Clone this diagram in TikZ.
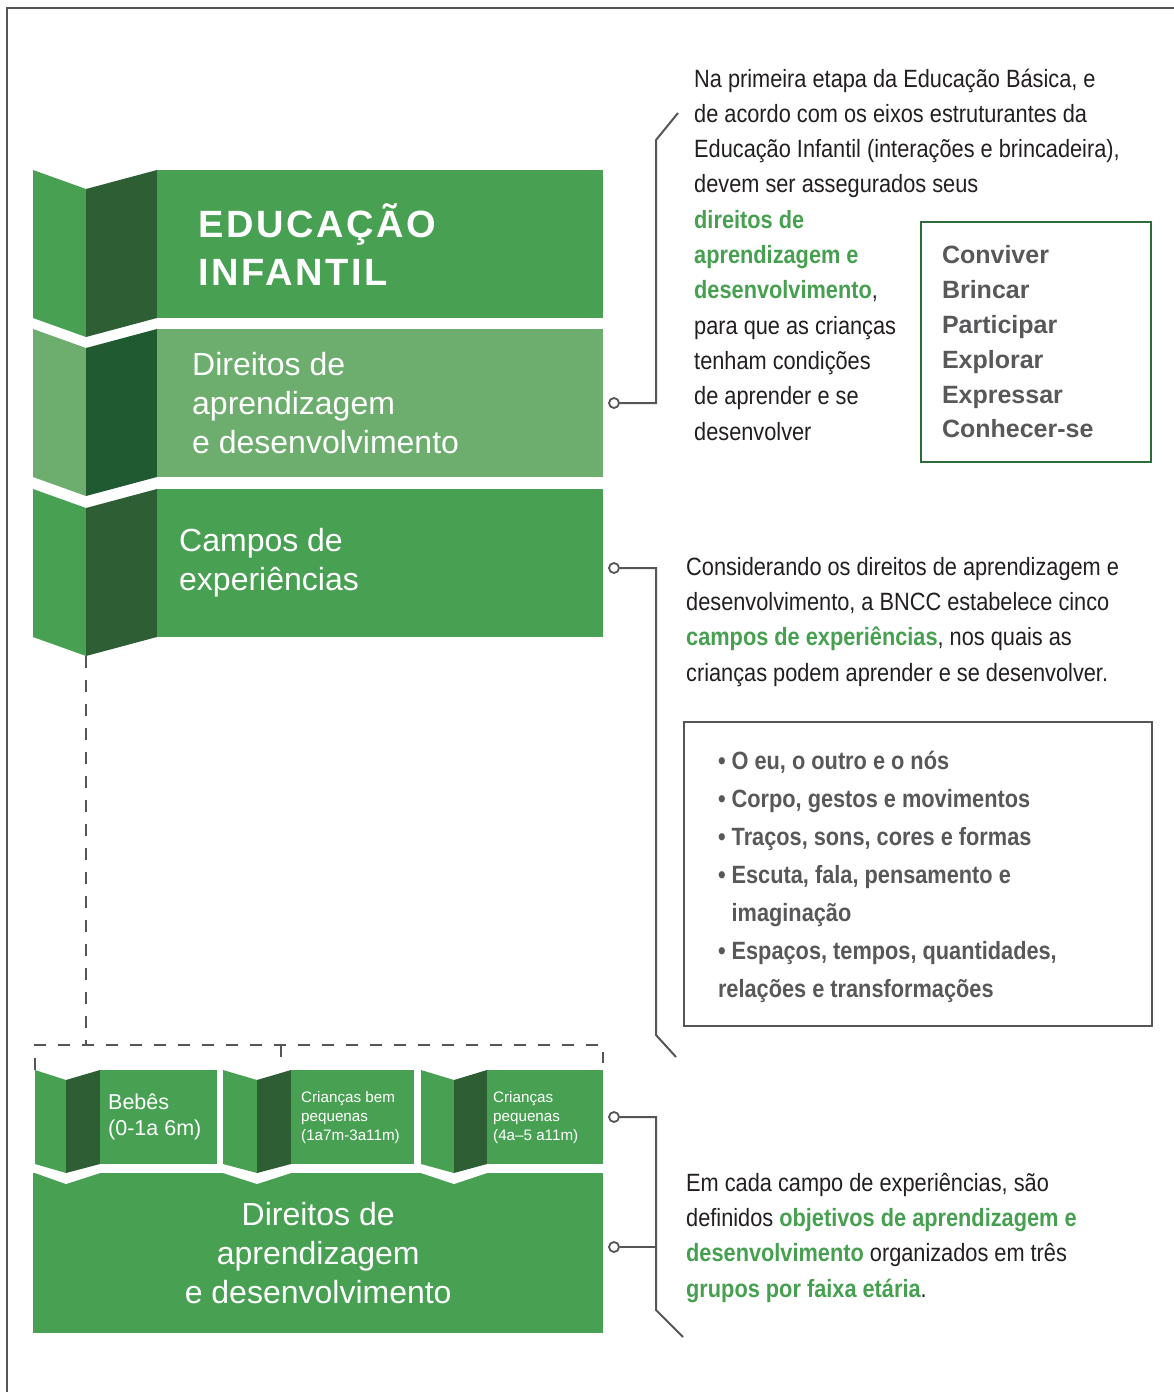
\documentclass[tikz,border=0pt]{standalone}
\usepackage{fontspec}
\setmainfont{Liberation Sans}
\newfontfamily\narrowf[FakeStretch=0.87]{Liberation Sans}
\newfontfamily\titlef[LetterSpace=7]{Liberation Sans}
\usetikzlibrary{positioning}

\definecolor{grn}{HTML}{48A153}
\definecolor{grnDk}{HTML}{2D5E34}
\definecolor{grnLt}{HTML}{6DAE6E}
\definecolor{grnDkb}{HTML}{1F5A30}
\definecolor{boxgrn}{HTML}{2E6B3A}
\definecolor{lngray}{HTML}{555555}
\definecolor{ink}{HTML}{231F20}
\definecolor{verbgray}{HTML}{58585A}
\definecolor{txtgrn}{HTML}{46A050}

\newcommand{\grnb}[1]{\textcolor{txtgrn}{\bfseries #1}}

\begin{document}
\begin{tikzpicture}[x=1pt, y=-1pt,
  blk/.style={fill=#1, inner sep=0pt, minimum width=446pt, minimum height=148pt, anchor=north west},
  sbox/.style={fill=grn, inner sep=0pt, minimum height=94pt, anchor=north west},
  lbl/.style={text=white, align=left, inner sep=0pt, font=\fontsize{32}{39}\selectfont},
  slbl/.style={text=white, align=left, inner sep=0pt, font=\fontsize{15.2}{19}\selectfont},
  txt/.style={text=ink, align=left, inner sep=0pt, anchor=base west, font=\narrowf\fontsize{25}{35.3}\selectfont},
  ln/.style={draw=lngray, line width=2pt},
  dsh/.style={draw=lngray, line width=2pt, dash pattern=on 12pt off 12pt},
  dot/.style={circle, draw=lngray, line width=1.8pt, fill=white, minimum size=10pt, inner sep=0pt}
]
\useasboundingbox (0,0) rectangle (1174,1392);

% frame
\draw[ln] (7,1392) -- (7,8) -- (1174,8);

% folded banners, left column
\fill[grn] (33,170) -- (86,189) -- (86,337) -- (33,318) -- cycle;
\fill[grnDk] (86,189) -- (157,170) -- (157,318) -- (86,337) -- cycle;
\node[blk=grn] (edu) at (157,170) {};
\node[lbl, font=\titlef\bfseries\fontsize{38}{48}\selectfont, right=41pt of edu.west] (edut) {EDUCAÇÃO\\INFANTIL};

\fill[grnLt] (33,329) -- (86,348) -- (86,496) -- (33,477) -- cycle;
\fill[grnDkb] (86,348) -- (157,329) -- (157,477) -- (86,496) -- cycle;
\node[blk=grnLt] (dir) at (157,329) {};
\node[lbl, right=35pt of dir.west] (dirt) {Direitos de\\aprendizagem\\e desenvolvimento};

\fill[grn] (33,489) -- (86,508) -- (86,656) -- (33,637) -- cycle;
\fill[grnDk] (86,508) -- (157,489) -- (157,637) -- (86,656) -- cycle;
\node[blk=grn] (cam) at (157,489) {};
\node[lbl, right=22pt of cam.west] (camt) {Campos de\\experiências};
\coordinate (v3) at (86,656);

% dashed bracket to the age groups
\coordinate (j1) at (86,1045);
\coordinate (b1) at (35,1070);
\coordinate (b2) at (603,1063);
\draw[dsh] (v3) -- (j1);
\draw[dsh] (b1) -- (35,1045) -- (603,1045) -- (b2);
\draw[dsh] (281,1045) -- (281,1068);

% age groups
\node[fill=grn, inner sep=0pt, minimum width=570pt, minimum height=160pt, anchor=north west,
  text=white, align=center, font=\fontsize{32}{39}\selectfont] (dirb) at (33,1173) {Direitos de\\aprendizagem\\e desenvolvimento};
\foreach \xa/\xb/\xc/\xd/\nm in {35/66/100/217/bb, 223/257/291/414/cbp, 421/454/487/603/cp}{
  \fill[grn] (\xa,1070) -- (\xb,1080) -- (\xb,1173) -- (\xa,1164) -- cycle;
  \fill[grnDk] (\xb,1080) -- (\xc,1070) -- (\xc,1164) -- (\xb,1173) -- cycle;
  \fill[white] (\xa,1173) -- (\xb,1184) -- (\xc,1173) -- cycle;
  \node[sbox, minimum width=\xd-\xc] (\nm) at (\xc,1070) {};
}
\node[lbl, font=\fontsize{21.5}{26}\selectfont, right=8pt of bb.west] (bbt) {Bebês\\(0-1a 6m)};
\node[slbl, right=10pt of cbp.west] (cbpt) {Crianças bem\\pequenas\\(1a7m-3a11m)};
\node[slbl, right=6pt of cp.west] (cpt) {Crianças\\pequenas\\(4a–5 a11m)};

% connectors
\coordinate (e1) at (678,113);
\coordinate (e2) at (676,1057);
\coordinate (e3) at (683,1337);
\node[dot] (c1) at (614,403) {};
\node[dot] (c2) at (614,568) {};
\node[dot] (c3) at (614,1117) {};
\node[dot] (c4) at (614,1247) {};
\draw[ln] (c1) -- (656,403) -- (656,140) -- (e1);
\draw[ln] (c2) -- (656,568) -- (656,1035) -- (e2);
\draw[ln] (c3) -- (656,1117) -- (656,1310) -- (e3);
\draw[ln] (c4) -- (656,1247);

% texts (base = last line)
\node[txt] (t1) at (694,440) {Na primeira etapa da Educação Básica, e\\de acordo com os eixos estruturantes da\\Educação Infantil (interações e brincadeira),\\devem ser assegurados seus\\\grnb{direitos de}\\\grnb{aprendizagem e}\\\grnb{desenvolvimento},\\para que as crianças\\tenham condições\\de aprender e se\\desenvolver};
\node[draw=boxgrn, line width=2.5pt, outer sep=0pt, anchor=north west, inner xsep=21pt, inner ysep=0pt,
  text width=188pt, minimum height=240pt, align=flush left, text=verbgray,
  font=\bfseries\fontsize{25}{34.8}\selectfont] (verbs) at (921,222) {Conviver\\Brincar\\Participar\\Explorar\\Expressar\\Conhecer-se};

\node[txt] (t2) at (686,681) {Considerando os direitos de aprendizagem e\\desenvolvimento, a BNCC estabelece cinco\\\grnb{campos de experiências}, nos quais as\\crianças podem aprender e se desenvolver.};
\node[draw=lngray, line width=2.5pt, outer sep=0pt, anchor=north west, inner xsep=34pt, inner ysep=0pt,
  text width=400pt, minimum height=304pt, align=flush left, text=verbgray,
  font=\narrowf\bfseries\fontsize{25}{38}\selectfont] (campos) at (684,722) {\rule{0pt}{24.5pt}• O eu, o outro e o nós\\• Corpo, gestos e movimentos\\• Traços, sons, cores e formas\\• Escuta, fala, pensamento e\\\phantom{• }imaginação\\• Espaços, tempos, quantidades,\\relações e transformações};

\node[txt] (t3) at (686,1297) {Em cada campo de experiências, são\\definidos \grnb{objetivos de aprendizagem e}\\\grnb{desenvolvimento} organizados em três\\\grnb{grupos por faixa etária}.};
\end{tikzpicture}
\end{document}
